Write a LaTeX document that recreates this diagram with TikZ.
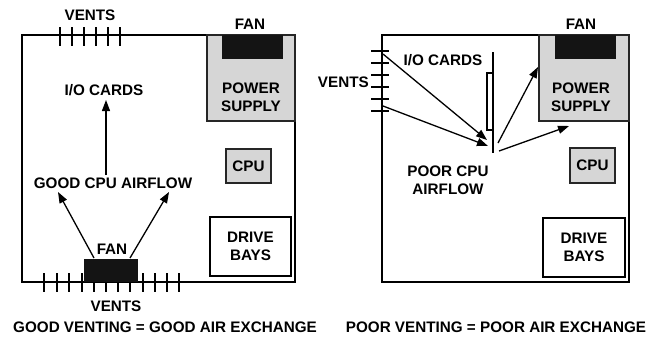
\documentclass[tikz,border=0pt]{standalone}
\usepackage{fontspec}
\setmainfont{Liberation Sans}
\usetikzlibrary{arrows.meta}
\begin{document}
\begin{tikzpicture}[x=1bp,y=-1bp,
  lbl/.style={font=\bfseries\fontsize{15.3}{18}\selectfont, inner sep=0pt, align=center},
  box/.style={anchor=north west, inner sep=0pt, outer sep=0pt},
  case/.style={box, draw, line width=1.8bp},
  psbox/.style={box, draw=black!85, fill=black!16, line width=1.5bp},
  fanbox/.style={box, fill=black!92},
  vent/.style={line width=1.1bp},
  card/.style={line width=1.2bp},
  flow/.style={line width=1.3bp, -{Triangle[length=11bp,width=8bp]}},
]
\useasboundingbox (0,0) rectangle (658,339);

% ===== LEFT PANEL =====
\node[case, minimum width=273bp, minimum height=247bp] (caseL) at (22,35) {};
% top vents
\foreach \x in {60,72,84,96,108,120} \draw[vent] (\x,27) -- (\x,46);
% bottom vents
\foreach \x in {44,57,69,82,94,106,118,130,143,155,167,179} \draw[vent] (\x,273) -- (\x,292);
\node[fanbox, minimum width=54bp, minimum height=23bp] (fanL) at (84,259) {};
% power supply
\node[psbox, minimum width=88bp, minimum height=86bp] (psL) at (207,35) {};
\node[fanbox, minimum width=61bp, minimum height=24bp] (psfanL) at (222,35) {};
\node[lbl] (pstL) at (251,97) {POWER\\SUPPLY};
% cpu
\node[psbox, minimum width=45bp, minimum height=34bp] (cpuL) at (226,149) {};
\node[lbl] at (cpuL.center) {CPU};
% drive bays
\node[case, fill=white, minimum width=81bp, minimum height=59bp] (dbL) at (210,217) {};
\node[lbl] at (dbL.center) {DRIVE\\BAYS};
% labels
\node[lbl] (ventTL) at (90,15) {VENTS};
\node[lbl] (fanTL) at (250,24) {FAN};
\node[lbl] (ioL) at (104,90) {I/O CARDS};
\node[lbl] (goodL) at (113,183) {GOOD CPU AIRFLOW};
\node[lbl] (fanBL) at (112,249) {FAN};
\node[lbl] (ventBL) at (116,306) {VENTS};
\node[lbl] (capL) at (165,327) {GOOD VENTING = GOOD AIR EXCHANGE};
% arrows
\coordinate (aS1) at (94,258); \coordinate (aT1) at (58,192);
\coordinate (aS2) at (130,258); \coordinate (aT2) at (169,192);
\coordinate (aS3) at (106,175); \coordinate (aT3) at (106,100);
\draw[flow] (aS1) -- (aT1);
\draw[flow] (aS2) -- (aT2);
\draw[flow] (aS3) -- (aT3);

% ===== RIGHT PANEL =====
\node[case, minimum width=247bp, minimum height=247bp] (caseR) at (382,35) {};
\foreach \y in {51,63,75,87,99,111} \draw[vent] (371,\y) -- (389,\y);
\node[psbox, minimum width=90bp, minimum height=86bp] (psR) at (539,35) {};
\node[fanbox, minimum width=61bp, minimum height=24bp] (psfanR) at (555,35) {};
\node[lbl] (pstR) at (581,97) {POWER\\SUPPLY};
\node[psbox, minimum width=45bp, minimum height=35bp] (cpuR) at (570,148) {};
\node[lbl] at (cpuR.center) {CPU};
\node[case, fill=white, minimum width=82bp, minimum height=59bp] (dbR) at (543,218) {};
\node[lbl] at (dbR.center) {DRIVE\\BAYS};
% I/O card
\coordinate (cardT) at (493,52); \coordinate (cardB) at (493,153);
\draw[card] (cardT) -- (cardB);
\node[box, draw, fill=white, line width=1.1bp, minimum width=6bp, minimum height=57bp] (cardR) at (487,73) {};
% labels
\node[lbl] (fanTR) at (581,24) {FAN};
\node[lbl, anchor=east] (ventR) at (369,82) {VENTS};
\node[lbl] (ioR) at (443,60) {I/O CARDS};
\node[lbl] (poorR) at (448,180) {POOR CPU\\AIRFLOW};
\node[lbl] (capR) at (496,327) {POOR VENTING = POOR AIR EXCHANGE};
% arrows
\coordinate (bS1) at (383,54); \coordinate (bT1) at (487,140);
\coordinate (bS2) at (383,106); \coordinate (bT2) at (488,146);
\coordinate (bS3) at (498,143); \coordinate (bT3) at (538,67);
\coordinate (bS4) at (499,151); \coordinate (bT4) at (569,126);
\draw[flow] (bS1) -- (bT1);
\draw[flow] (bS2) -- (bT2);
\draw[flow] (bS3) -- (bT3);
\draw[flow] (bS4) -- (bT4);
\end{tikzpicture}
\end{document}
